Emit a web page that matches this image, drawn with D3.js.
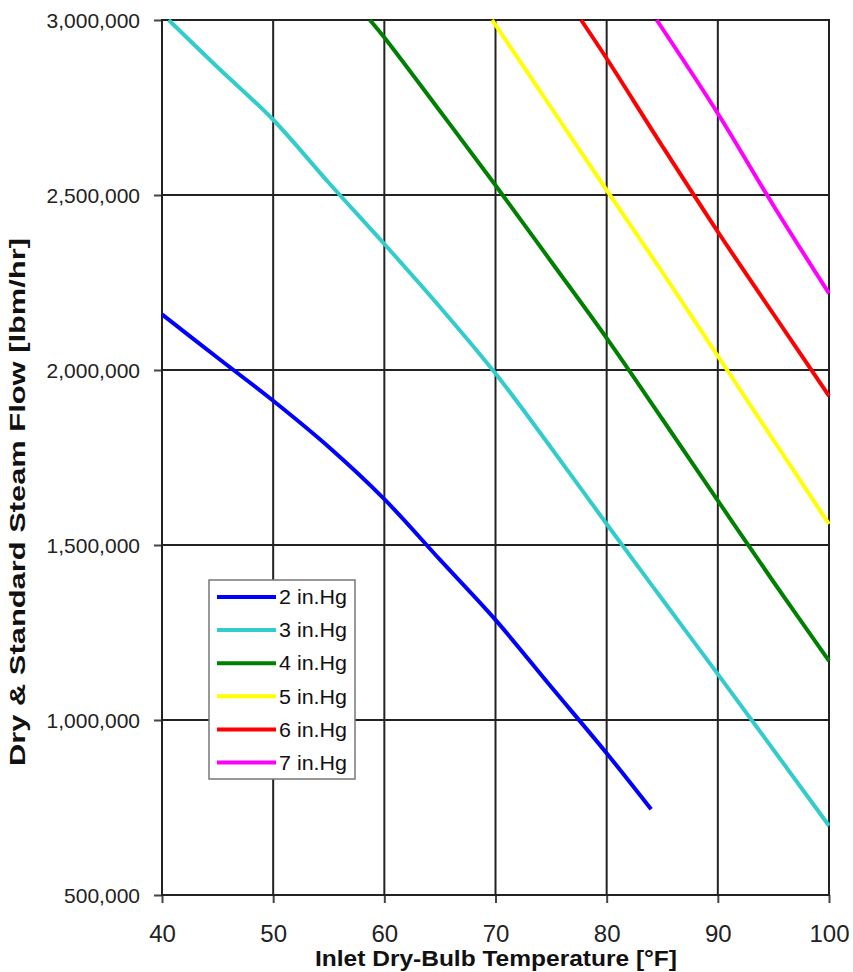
<!DOCTYPE html>
<html>
<head>
<meta charset="utf-8">
<script src="https://cdn.jsdelivr.net/npm/d3@7"></script>
<style>
  html, body { margin: 0; padding: 0; background: #fff; }
  svg { display: block; }
  text { font-family: "Liberation Sans", Arial, sans-serif; }
</style>
</head>
<body>
<svg id="chart" width="853" height="972"></svg>
<script>
// ---- data ----
const seriesNames = ["2 in.Hg", "3 in.Hg", "4 in.Hg", "5 in.Hg", "6 in.Hg", "7 in.Hg"];
const seriesColors = ["#0000ff", "#33cccc", "#008000", "#ffff00", "#ff0000", "#ff00ff"];

const temp2 = [40, 45, 50, 55, 60, 65, 70, 75, 80, 84];
const flow2 = [2159000, 2035000, 1912000, 1780000, 1631000, 1458000, 1286000, 1095000, 905000, 745000];

const temp3 = [40.6, 45, 50, 55, 60, 65, 70, 75, 80, 85, 90, 95, 100];
const flow3 = [3000000, 2865000, 2715000, 2535000, 2360000, 2180000, 1990000, 1778000, 1560000, 1345000, 1131000, 915000, 698000];

const temp4 = [58.7, 60, 65, 70, 75, 80, 85, 90, 95, 100];
const flow4 = [3000000, 2950000, 2740000, 2528000, 2310000, 2091000, 1860000, 1627000, 1395000, 1169000];

const temp5 = [69.7, 75, 80, 85, 90, 95, 100];
const flow5 = [3000000, 2750000, 2514000, 2280000, 2040000, 1800000, 1560000];

const temp6 = [77.7, 80, 85, 90, 95, 100];
const flow6 = [3000000, 2890000, 2640000, 2395000, 2160000, 1926000];

const temp7 = [84.5, 90, 95, 100];
const flow7 = [3000000, 2733000, 2470000, 2219000];

const xTicks = [40, 50, 60, 70, 80, 90, 100];
const yTicks = [500000, 1000000, 1500000, 2000000, 2500000, 3000000];

const xTitle = "Inlet Dry-Bulb Temperature [°F]";
const yTitle = "Dry & Standard Steam Flow [lbm/hr]";

// ---- build ----
const temps = [temp2, temp3, temp4, temp5, temp6, temp7];
const flows = [flow2, flow3, flow4, flow5, flow6, flow7];
const series = seriesNames.map((name, i) => ({
  name, color: seriesColors[i],
  points: temps[i].map((t, j) => ({ t, f: flows[i][j] }))
}));

const svg = d3.select("#chart");
const L = 162, R = 829, T = 20, B = 895;

const x = d3.scaleLinear().domain([40, 100]).range([L, R]);
const y = d3.scaleLinear().domain([500000, 3000000]).range([B, T]);

// gridlines
const grid = svg.append("g").attr("stroke", "#222").attr("stroke-width", 2);
grid.selectAll("line.v").data(xTicks).join("line")
  .attr("x1", d => x(d)).attr("x2", d => x(d)).attr("y1", T).attr("y2", B);
grid.selectAll("line.h").data(yTicks).join("line")
  .attr("x1", L).attr("x2", R).attr("y1", d => y(d)).attr("y2", d => y(d));

// axes
const fmt = d3.format(",");
const yAxis = svg.append("g").attr("transform", `translate(${L},0)`)
  .call(d3.axisLeft(y).tickValues(yTicks).tickFormat(fmt).tickSize(8).tickPadding(14));
const xAxis = svg.append("g").attr("transform", `translate(0,${B})`)
  .call(d3.axisBottom(x).tickValues(xTicks).tickSize(8).tickPadding(22));
[xAxis, yAxis].forEach(a => {
  a.select(".domain").remove();
  a.selectAll(".tick line").attr("stroke", "#444").attr("stroke-width", 2);
  a.selectAll(".tick text").attr("fill", "#222")
    .style("font-family", '"Liberation Sans", Arial, sans-serif');
});
yAxis.selectAll(".tick text").style("font-size", "21px").attr("dy", "0.36em");
xAxis.selectAll(".tick text").style("font-size", "24px").attr("dy", "0.71em");

// frame
svg.append("rect").attr("x", L).attr("y", T).attr("width", R - L).attr("height", B - T)
  .attr("fill", "none").attr("stroke", "#222").attr("stroke-width", 2);

// lines
const line = d3.line().x(d => x(d.t)).y(d => y(d.f)).curve(d3.curveCatmullRom.alpha(0.5));
svg.append("g").selectAll("path").data(series).join("path")
  .attr("d", d => line(d.points))
  .attr("fill", "none").attr("stroke", d => d.color)
  .attr("stroke-width", 4).attr("stroke-linecap", "butt");

// titles
svg.append("text").attr("x", 496).attr("y", 966).attr("text-anchor", "middle")
  .attr("font-weight", "bold").attr("font-size", 22).attr("fill", "#111")
  .attr("textLength", 362).attr("lengthAdjust", "spacingAndGlyphs")
  .text(xTitle);
svg.append("text").attr("transform", "translate(25,502) rotate(-90)").attr("text-anchor", "middle")
  .attr("font-weight", "bold").attr("font-size", 22).attr("fill", "#111")
  .attr("textLength", 528).attr("lengthAdjust", "spacingAndGlyphs")
  .text(yTitle);

// legend
const lg = svg.append("g");
lg.append("rect").attr("x", 209).attr("y", 580).attr("width", 146).attr("height", 199)
  .attr("fill", "#fff").attr("stroke", "#777").attr("stroke-width", 1.5);
const items = lg.selectAll("g.item").data(series).join("g")
  .attr("transform", (d, i) => `translate(0,${597 + i * 33.1})`);
items.append("line").attr("x1", 217).attr("x2", 276).attr("y1", 0).attr("y2", 0)
  .attr("stroke", d => d.color).attr("stroke-width", 4);
items.append("text").attr("x", 279).attr("y", 0).attr("dy", "0.36em")
  .attr("font-size", 20).attr("fill", "#111")
  .attr("textLength", 68).attr("lengthAdjust", "spacingAndGlyphs")
  .text(d => d.name);
</script>
</body>
</html>
